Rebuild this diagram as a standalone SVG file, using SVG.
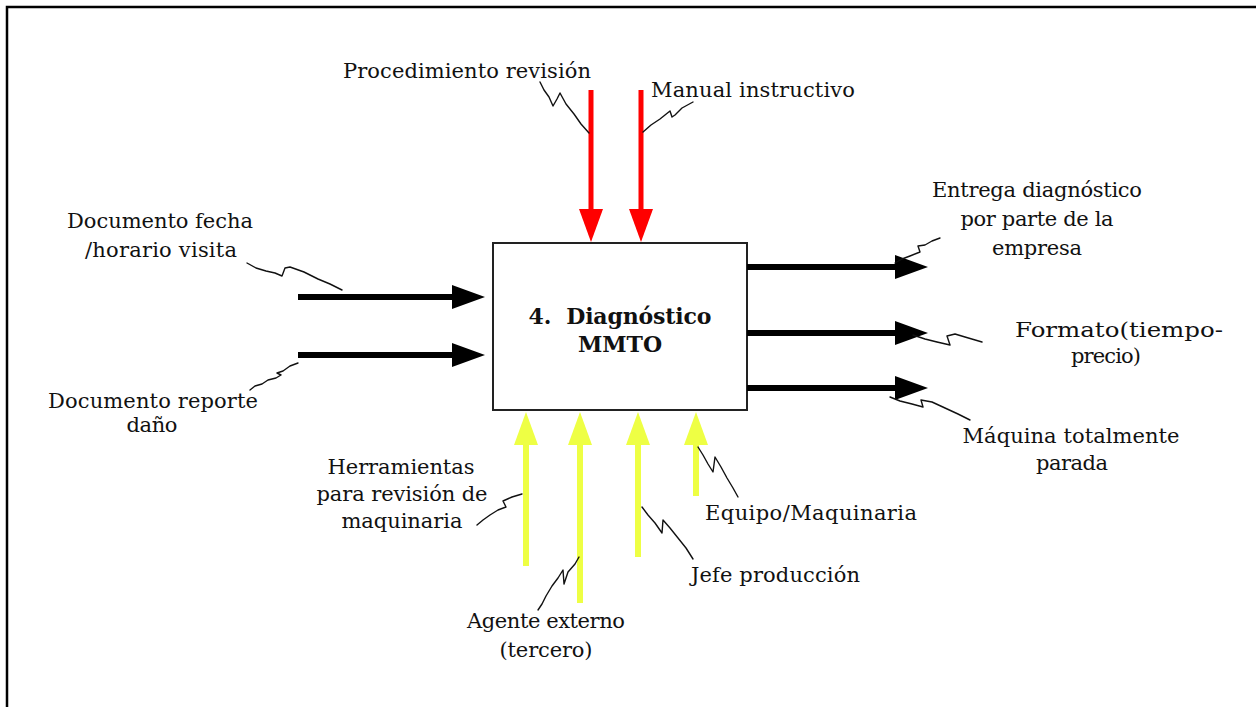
<svg xmlns="http://www.w3.org/2000/svg" width="1256" height="707" viewBox="0 0 1256 707">
<style>
text{font-family:"DejaVu Serif","Liberation Serif",serif;font-size:21px;fill:#111;}
.c{text-anchor:middle;}
.b{font-weight:bold;font-size:22px;}
.blk{stroke:#000;stroke-width:6;fill:none;}
.red{stroke:#FF0000;stroke-width:5;fill:none;}
.yel{stroke:#EEFF44;stroke-width:6;fill:none;}
.sq{stroke:#111;stroke-width:1.4;fill:none;stroke-linejoin:round;stroke-linecap:round;}
</style>
<defs>
<marker id="hb" markerUnits="userSpaceOnUse" markerWidth="34" markerHeight="26" refX="23" refY="13" orient="auto"><path d="M0,1 L33,13 L0,25 z" fill="#000"/></marker>
<marker id="hr" markerUnits="userSpaceOnUse" markerWidth="34" markerHeight="26" refX="23" refY="13" orient="auto"><path d="M0,1 L33,13 L0,25 z" fill="#FF0000"/></marker>
<marker id="hy" markerUnits="userSpaceOnUse" markerWidth="34" markerHeight="26" refX="23" refY="13" orient="auto"><path d="M0,1 L33,13 L0,25 z" fill="#EEFF44"/></marker>
</defs>
<rect width="1256" height="707" fill="#fff"/>
<path d="M7,707 V7 H1256" stroke="#000" stroke-width="2.5" fill="none"/>

<g id="process">
<rect x="493" y="243" width="254" height="167" fill="#fff" stroke="#222" stroke-width="2"/>
<text class="c b" x="620" y="324" textLength="183">4.&#160; Diagnóstico</text>
<text class="c b" x="620" y="352">MMTO</text>
</g>

<g id="connectors">
<line class="red" x1="591" y1="90" x2="591" y2="232" marker-end="url(#hr)"/>
<line class="red" x1="641" y1="90" x2="641" y2="232" marker-end="url(#hr)"/>
<line class="blk" x1="298" y1="297" x2="475" y2="297" marker-end="url(#hb)"/>
<line class="blk" x1="298" y1="355" x2="475" y2="355" marker-end="url(#hb)"/>
<line class="blk" x1="747" y1="267" x2="918" y2="267" marker-end="url(#hb)"/>
<line class="blk" x1="747" y1="333" x2="918" y2="333" marker-end="url(#hb)"/>
<line class="blk" x1="747" y1="388" x2="918" y2="388" marker-end="url(#hb)"/>
<line class="yel" x1="526" y1="566" x2="526" y2="422" marker-end="url(#hy)"/>
<line class="yel" x1="580" y1="603" x2="580" y2="422" marker-end="url(#hy)"/>
<line class="yel" x1="638" y1="557" x2="638" y2="422" marker-end="url(#hy)"/>
<line class="yel" x1="696" y1="496" x2="696" y2="422" marker-end="url(#hy)"/>
</g>

<g id="leaders">
<path class="sq" d="M540,82 L544,90 L549,97 L553,106 L557,99 L560,93 L566,104 L574,114 L581,124 L589,133"/>
<path class="sq" d="M643,132 L651,125 L660,119 L670,111 L672,117 L675,115 L682,108 L693,102"/>
<path class="sq" d="M247,263 L256,268 L266,271 L275,273 L282,276 L285,268 L290,267 L304,272 L318,279 L330,284 L342,290"/>
<path class="sq" d="M298,363 L290,366 L283,371 L277,373 L281,375 L276,378 L268,380 L262,384 L255,386 L250,390"/>
<path class="sq" d="M522,494 L512,497 L503,501 L506,507 L498,510 L490,515 L483,520 L477,525"/>
<path class="sq" d="M579,557 L575,564 L568,572 L564,584 L563,570 L558,578 L552,586 L546,596 L542,604 L538,610"/>
<path class="sq" d="M642,507 L648,515 L655,523 L662,533 L663,520 L670,528 L678,538 L686,548 L693,559"/>
<path class="sq" d="M698,447 L703,455 L708,464 L713,472 L715,457 L721,467 L727,478 L733,488 L738,497"/>
<path class="sq" d="M895,263 L902,259 L910,256 L920,252 L918,246 L925,245 L932,241 L940,238"/>
<path class="sq" d="M913,335 L925,339 L937,342 L950,345 L947,336 L955,334 L965,337 L982,342"/>
<path class="sq" d="M890,397 L900,401 L912,404 L923,407 L921,400 L932,402 L945,408 L958,414 L970,420"/>
</g>

<g id="labels">
<text class="c" x="467" y="78" textLength="248">Procedimiento revisión</text>
<text x="651" y="97" textLength="204">Manual instructivo</text>
<text class="c" x="160" y="228" textLength="186">Documento fecha</text>
<text class="c" x="161" y="257" textLength="152">/horario visita</text>
<text class="c" x="153" y="408" textLength="210">Documento reporte</text>
<text class="c" x="152" y="432" textLength="51">daño</text>
<text class="c" x="1037" y="197" textLength="210">Entrega diagnóstico</text>
<text class="c" x="1037" y="226" textLength="153">por parte de la</text>
<text class="c" x="1037" y="255" textLength="90">empresa</text>
<text class="c" x="1119" y="337" textLength="208" lengthAdjust="spacingAndGlyphs">Formato(tiempo-</text>
<text class="c" x="1106" y="363" textLength="70">precio)</text>
<text class="c" x="1071" y="443" textLength="217">Máquina totalmente</text>
<text class="c" x="1072" y="470" textLength="72">parada</text>
<text class="c" x="401" y="474" textLength="147">Herramientas</text>
<text class="c" x="402" y="501" textLength="171">para revisión de</text>
<text class="c" x="402" y="528" textLength="121">maquinaria</text>
<text class="c" x="546" y="628" textLength="158">Agente externo</text>
<text class="c" x="546" y="657" textLength="93">(tercero)</text>
<text x="691" y="582" textLength="169">Jefe producción</text>
<text x="705" y="520" textLength="212">Equipo/Maquinaria</text>
</g>
</svg>
